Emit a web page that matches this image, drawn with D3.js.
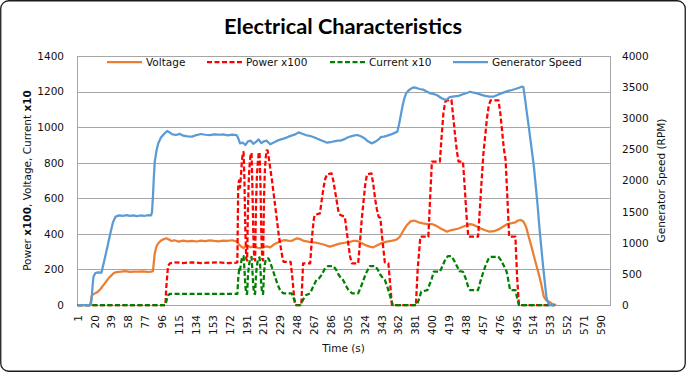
<!DOCTYPE html>
<html><head><meta charset="utf-8">
<script src="https://cdn.jsdelivr.net/npm/d3@7"></script>
<style>
html,body{margin:0;padding:0;background:#fff;}
svg{display:block;}
</style></head><body>
<svg id="chart" width="686" height="372"></svg>
<script>
// ---------------- DATA ----------------
const chartTitle = "Electrical Characteristics";
const xTitle = "Time (s)";
const rightTitle = "Generator Speed (RPM)";
const seriesNames = ["Voltage", "Power x100", "Current x10", "Generator Speed"];
const categoryCount = 600; // time categories 1..600 s
const xTickLabels = [1,20,39,58,77,96,115,134,153,172,191,210,229,248,267,286,305,324,343,362,381,400,419,438,457,476,495,514,533,552,571,590];
const leftTicks = [0,200,400,600,800,1000,1200,1400];
const rightTicks = [0,500,1000,1500,2000,2500,3000,3500,4000];

// Voltage (left axis)
const voltageT = [1,15,16,17,19,21,24,27,30,33,36,39,42,45,50,55,60,65,70,75,80,84,86,88,90,92,95,98,101,104,107,110,115,120,125,130,135,140,145,150,155,160,165,170,175,180,182,185,188,192,196,200,204,207,210,214,218,222,226,230,234,238,242,248,252,256,262,270,278,285,290,296,302,308,312,316,320,326,330,334,338,342,348,354,358,361,364,368,372,376,380,385,390,395,400,405,410,414,417,421,426,430,435,440,443,447,451,455,460,465,470,475,480,485,490,494,497,500,503,506,509,512,516,520,523,526,529,533,536,540];
const voltageV = [0,0,20,50,62,66,75,90,110,130,150,165,180,185,187,190,186,188,187,189,186,188,190,290,330,347,362,370,375,368,360,364,356,362,358,361,357,362,359,363,360,358,362,360,364,358,345,330,320,335,325,330,322,319,325,330,324,340,350,360,365,362,360,375,370,360,355,350,340,328,335,345,350,355,361,360,350,335,328,324,335,345,355,360,365,370,384,420,450,470,475,465,459,455,455,445,430,420,412,420,425,430,440,450,455,450,440,430,420,412,415,425,440,455,460,465,475,478,470,440,384,330,253,180,120,47,25,15,5,0];

// Power x100 (left axis)
const powerT = [1,100,101,103,105,110,120,130,140,150,160,170,180,181,182,183,184,185,186,187,188,189,190,191,192,193,194,195,196,197,198,199,200,201,202,203,204,205,206,207,208,209,210,211,212,213,214,215,216,218,220,222,224,226,228,230,232,233,241,243,245,246,253,254,255,263,265,267,268,274,276,278,280,282,287,289,291,293,295,297,302,304,306,308,310,317,319,321,323,325,327,332,334,336,338,340,342,344,347,351,353,355,382,384,387,396,398,400,409,411,413,415,417,422,424,426,428,430,435,437,439,441,452,454,456,458,460,462,464,466,475,477,479,481,483,485,487,494,496,498,538];
const powerV = [0,0,100,220,234,240,236,240,236,238,240,236,238,240,680,700,660,720,800,850,860,700,420,260,250,560,720,800,850,855,650,400,260,250,560,720,800,850,860,680,400,260,250,600,760,830,870,870,840,770,700,620,540,460,380,320,260,243,243,150,40,0,0,120,234,234,380,480,506,515,590,660,710,735,740,700,640,580,520,506,496,420,340,270,234,234,350,480,580,680,735,740,680,600,540,496,489,380,240,234,120,0,0,200,384,384,600,806,806,950,1080,1142,1150,1153,1060,960,870,806,806,660,500,384,384,540,700,852,950,1050,1120,1150,1150,1080,980,880,815,600,384,384,150,0,0];

// Current x10 (left axis)
const currentT = [1,100,101,103,105,180,181,182,183,184,185,186,187,188,189,190,191,192,193,194,195,196,197,198,199,200,201,202,203,204,205,206,207,208,209,210,211,212,213,214,216,218,220,222,224,226,228,230,233,242,245,248,252,255,258,263,266,270,273,276,279,283,289,292,295,298,300,303,306,310,317,320,323,326,330,336,339,342,345,347,350,353,356,383,386,388,395,400,402,409,412,415,418,422,425,428,431,435,438,441,443,452,455,458,461,464,466,475,478,481,484,486,488,494,496,498,538];
const currentV = [0,0,20,55,62,62,62,150,200,190,230,260,270,275,200,110,65,62,170,220,250,265,270,190,100,65,62,170,220,250,262,268,200,110,65,62,180,230,255,262,262,240,210,180,150,120,95,75,66,66,30,0,0,30,55,66,100,141,150,170,200,219,219,200,170,150,141,110,85,66,66,100,141,180,219,219,200,170,150,141,100,50,0,0,40,75,84,150,187,187,220,255,275,275,250,220,190,187,150,100,84,84,140,187,230,262,271,271,250,220,190,140,84,84,40,0,0];

// Generator Speed (right axis, RPM)
const speedT = [1,16,17,18,19,21,24,28,31,35,38,41,44,48,52,56,60,64,68,72,76,80,84,85,86,87,88,90,92,95,98,102,105,108,112,116,120,125,130,135,140,145,150,155,160,165,170,175,180,182,184,187,190,193,196,199,202,205,208,211,214,218,222,226,230,234,238,242,246,250,254,258,263,268,273,278,282,286,290,294,297,301,305,309,313,316,320,324,328,332,336,340,343,346,350,354,358,361,363,365,367,369,371,374,377,380,383,386,390,394,398,402,406,410,414,417,420,425,430,435,440,443,447,451,455,460,465,469,473,478,482,486,490,494,498,501,503,505,507,509,511,513,515,517,519,521,523,525,527,529,531,533,538];
const speedV = [0,0,100,300,450,510,525,520,700,950,1150,1330,1420,1440,1430,1445,1432,1440,1428,1438,1430,1442,1440,1500,1750,2050,2300,2480,2597,2690,2740,2795,2770,2740,2731,2750,2720,2710,2704,2730,2747,2735,2728,2740,2735,2742,2725,2738,2731,2680,2597,2610,2570,2630,2640,2590,2620,2660,2600,2630,2640,2581,2610,2640,2660,2677,2700,2720,2740,2773,2750,2730,2715,2690,2660,2630,2607,2615,2630,2640,2640,2660,2690,2710,2725,2731,2710,2680,2630,2597,2620,2660,2700,2704,2720,2740,2765,2784,2900,3050,3200,3320,3400,3450,3480,3497,3485,3470,3460,3430,3400,3390,3370,3330,3300,3304,3340,3350,3360,3385,3410,3426,3410,3400,3380,3360,3346,3346,3370,3400,3420,3440,3454,3470,3490,3507,3500,3300,3080,2870,2650,2430,2200,1900,1600,1250,950,650,380,120,30,0,0];

const seriesColors = ["#ED7D31", "#FF0000", "#008000", "#5B9BD5"];

// ---------------- CHART ----------------
const svg = d3.select("#chart");
const W = 686, H = 372;
const plot = {left: 77, right: 610, top: 56, bottom: 305};
const font = "'DejaVu Sans', Verdana, sans-serif";
const fs = 10.5;
const fmt = d3.format("d");

svg.append("rect").attr("x", 0.75).attr("y", 0.75).attr("width", W - 1.5).attr("height", H - 1.5)
  .attr("rx", 8).attr("fill", "#fff").attr("stroke", "#1a1a1a").attr("stroke-width", 1.3);

const x = d3.scaleLinear().domain([0.5, categoryCount + 0.5]).range([plot.left, plot.right]);
const yL = d3.scaleLinear().domain([0, 1400]).range([plot.bottom, plot.top]);
const yR = d3.scaleLinear().domain([0, 4000]).range([plot.bottom, plot.top]);

// gridlines
const grid = svg.append("g").attr("transform", `translate(${plot.left},0)`)
  .call(d3.axisLeft(yL).tickValues(leftTicks).tickSize(-(plot.right - plot.left)).tickFormat(""));
grid.select(".domain").remove();
grid.selectAll("line").attr("stroke", "#a6a6a6").attr("stroke-width", 1).attr("shape-rendering", "crispEdges");

// plot border
svg.append("rect").attr("x", plot.left).attr("y", plot.top).attr("width", plot.right - plot.left)
  .attr("height", plot.bottom - plot.top).attr("fill", "none").attr("stroke", "#a6a6a6")
  .attr("stroke-width", 1).attr("shape-rendering", "crispEdges");

// left axis
const axL = svg.append("g").attr("transform", `translate(${plot.left - 13},0)`)
  .call(d3.axisLeft(yL).tickValues(leftTicks).tickFormat(fmt).tickSize(0).tickPadding(0));
axL.select(".domain").remove();
axL.selectAll("text").attr("font-family", font).attr("font-size", fs).attr("fill", "#111");

// right axis
const axR = svg.append("g").attr("transform", `translate(${plot.right + 12},0)`)
  .call(d3.axisRight(yR).tickValues(rightTicks).tickFormat(fmt).tickSize(0).tickPadding(0));
axR.select(".domain").remove();
axR.selectAll("text").attr("font-family", font).attr("font-size", fs).attr("fill", "#111");

// bottom axis
const axB = svg.append("g").attr("transform", `translate(0,${plot.bottom})`)
  .call(d3.axisBottom(x).tickValues(xTickLabels).tickFormat(fmt).tickSize(0));
axB.select(".domain").attr("stroke", "#a6a6a6");
axB.selectAll("text").attr("font-family", font).attr("font-size", fs).attr("fill", "#111")
  .attr("transform", "rotate(-90)").attr("x", -10).attr("y", 0).attr("dy", "0.36em")
  .style("text-anchor", "end");

// series
const line = (scale) => d3.line().x(d => x(d[0])).y(d => scale(d[1]));
const seriesData = [
  {pts: d3.zip(voltageT, voltageV), scale: yL, dash: null},
  {pts: d3.zip(powerT, powerV), scale: yL, dash: "5,2.5"},
  {pts: d3.zip(currentT, currentV), scale: yL, dash: "5,2.5"},
  {pts: d3.zip(speedT, speedV), scale: yR, dash: null},
];
const lines = svg.append("g");
seriesData.forEach((s, i) => {
  lines.append("path").datum(s.pts).attr("d", line(s.scale)).attr("fill", "none")
    .attr("stroke", seriesColors[i]).attr("stroke-width", 2.25).attr("stroke-linejoin", "round")
    .attr("stroke-dasharray", s.dash);
});

// legend
const legendX = [107, 207, 330, 453];
const legend = svg.append("g");
seriesNames.forEach((n, i) => {
  legend.append("line").attr("x1", legendX[i]).attr("x2", legendX[i] + 35).attr("y1", 62).attr("y2", 62)
    .attr("stroke", seriesColors[i]).attr("stroke-width", 2.25).attr("stroke-dasharray", seriesData[i].dash);
  legend.append("text").attr("x", legendX[i] + 39).attr("y", 62).attr("dy", "0.35em")
    .attr("font-family", font).attr("font-size", fs).attr("fill", "#111").text(n);
});

// title
const t = svg.append("text").attr("x", W / 2).attr("y", 34).attr("text-anchor", "middle")
  .attr("font-family", "Lato, 'Open Sans', sans-serif").attr("font-weight", "bold").attr("font-size", 21)
  .attr("fill", "#000").text(chartTitle);
const tw = t.node().getComputedTextLength();
if (tw > 0) t.attr("font-size", 21 * 238 / tw);

// x title
svg.append("text").attr("x", (plot.left + plot.right) / 2).attr("y", 348).attr("dy", "0.35em")
  .attr("text-anchor", "middle").attr("font-family", font).attr("font-size", fs).attr("fill", "#111").text(xTitle);

// left title with bold parts
const lt = svg.append("text").attr("transform", `translate(27,${(plot.top + plot.bottom) / 2}) rotate(-90)`)
  .attr("text-anchor", "middle").attr("dy", "0.35em").attr("font-family", font).attr("font-size", fs).attr("fill", "#111");
[["Power ", false], ["x100", true], [", Voltage, Current ", false], ["x10", true]].forEach(([s, b]) => {
  lt.append("tspan").attr("font-weight", b ? "bold" : "normal").text(s);
});

// right title
svg.append("text").attr("transform", `translate(661,${(plot.top + plot.bottom) / 2}) rotate(-90)`)
  .attr("text-anchor", "middle").attr("dy", "0.35em").attr("font-family", font).attr("font-size", fs)
  .attr("fill", "#111").text(rightTitle);
</script>
</body></html>
